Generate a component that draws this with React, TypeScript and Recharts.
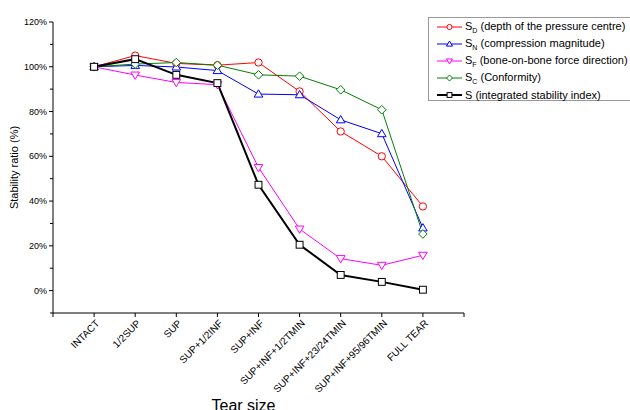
import React from 'react';
import { LineChart, Line, XAxis, YAxis } from 'recharts';

const categories = ['INTACT', '1/2SUP', 'SUP', 'SUP+1/2INF', 'SUP+INF', 'SUP+INF+1/2TMIN', 'SUP+INF+23/24TMIN', 'SUP+INF+95/96TMIN', 'FULL TEAR'];
const sD = [1.0, 1.05, 1.015, 1.007, 1.019, 0.89, 0.711, 0.60, 0.376];
const sN = [1.0, 1.006, 0.999, 0.983, 0.878, 0.875, 0.763, 0.701, 0.28];
const sF = [1.0, 0.963, 0.93, 0.92, 0.55, 0.275, 0.143, 0.113, 0.158];
const sC = [1.0, 1.012, 1.019, 1.007, 0.964, 0.958, 0.897, 0.808, 0.253];
const sI = [1.0, 1.034, 0.964, 0.927, 0.473, 0.205, 0.07, 0.039, 0.004];
const yTicks = [-0.1, 0, 0.1, 0.2, 0.3, 0.4, 0.5, 0.6, 0.7, 0.8, 0.9, 1.0, 1.1, 1.2];
const xTicks = [0, 1, 2, 3, 4, 5, 6, 7, 8, 9, 10];

const data = categories.map((c, i) => ({ x: i + 1, name: c, sD: sD[i], sN: sN[i], sF: sF[i], sC: sC[i], sI: sI[i] }));

const FONT = 'Liberation Sans, Arial, sans-serif';

type Shape = 'circle' | 'up' | 'down' | 'diamond' | 'square';

const marker = (shape: Shape, color: string, cx: number, cy: number, s: number, key?: any) => {
  const common = { fill: '#fff', stroke: color, strokeWidth: 1 };
  if (shape === 'circle') return <circle key={key} cx={cx} cy={cy} r={s * 0.85} {...common} />;
  if (shape === 'square') return <rect key={key} x={cx - s * 0.8} y={cy - s * 0.8} width={s * 1.6} height={s * 1.6} {...common} />;
  if (shape === 'up') return <polygon key={key} points={`${cx},${cy - s} ${cx + s},${cy + s * 0.7} ${cx - s},${cy + s * 0.7}`} {...common} />;
  if (shape === 'down') return <polygon key={key} points={`${cx},${cy + s} ${cx + s},${cy - s * 0.7} ${cx - s},${cy - s * 0.7}`} {...common} />;
  return <polygon key={key} points={`${cx},${cy - s} ${cx + s},${cy} ${cx},${cy + s} ${cx - s},${cy}`} {...common} />;
};

const makeDot = (shape: Shape, color: string) => (props: any) => {
  const { cx, cy, index } = props;
  if (cx == null || cy == null) return <g key={index} />;
  return marker(shape, color, cx, cy, 4.3, index);
};

const series = [
  { key: 'sD', color: '#FF0000', shape: 'circle' as Shape, width: 1, main: 'S', sub: 'D', rest: ' (depth of the pressure centre)' },
  { key: 'sN', color: '#0000FF', shape: 'up' as Shape, width: 1, main: 'S', sub: 'N', rest: ' (compression magnitude)' },
  { key: 'sF', color: '#FF00FF', shape: 'down' as Shape, width: 1, main: 'S', sub: 'F', rest: ' (bone-on-bone force direction)' },
  { key: 'sC', color: '#008000', shape: 'diamond' as Shape, width: 1, main: 'S', sub: 'C', rest: ' (Conformity)' },
  { key: 'sI', color: '#000000', shape: 'square' as Shape, width: 2, main: 'S', sub: '', rest: ' (integrated stability index)' },
];

const XTick = (props: any) => {
  const { x, y, payload } = props;
  const label = payload.value >= 1 && payload.value <= 9 ? categories[payload.value - 1] : '';
  const tx = x + 6;
  const ty = y + 5;
  return (
    <text x={tx} y={ty} transform={`rotate(-45, ${tx}, ${ty})`} textAnchor="end" fontSize={10} fontFamily={FONT} fill="#000">
      {label}
    </text>
  );
};

const YTick = (props: any) => {
  const { x, y, payload } = props;
  const v = Math.round(payload.value * 100);
  const major = v >= 0 && v % 20 === 0;
  const axisX = x + 6;
  return (
    <g>
      <line x1={axisX - (major ? 4 : 3)} y1={y} x2={axisX} y2={y} stroke="#000" strokeWidth={1} />
      {major && (
        <text x={axisX - 6} y={y} dy="0.35em" textAnchor="end" fontSize={9} fontFamily={FONT} fill="#000">
          {`${v}%`}
        </text>
      )}
    </g>
  );
};

const LegendBox = () => (
  <div style={{ position: 'absolute', left: 428, top: 17, width: 215, height: 84, border: '1px solid #999', background: '#fff', boxSizing: 'border-box', paddingTop: 1, fontFamily: FONT, fontSize: 11, color: '#000' }}>
    {series.map((s) => (
      <div key={s.key} style={{ height: 16.8, display: 'flex', alignItems: 'center', whiteSpace: 'nowrap' }}>
        <svg width={28} height={12} style={{ marginLeft: 8, flexShrink: 0 }}>
          <line x1={0} y1={6} x2={25} y2={6} stroke={s.color} strokeWidth={s.width} />
          {marker(s.shape, s.color, 12.5, 6, 3)}
        </svg>
        <span>
          {s.main}
          {s.sub && <sub style={{ fontSize: 7 }}>{s.sub}</sub>}
          {s.rest}
        </span>
      </div>
    ))}
  </div>
);

export default function App() {
  return (
    <div style={{ position: 'absolute', left: 0, top: 0, width: 630, height: 410, background: '#fff', overflow: 'hidden' }}>
      <LineChart width={630} height={410} data={data} margin={{ top: 22, right: 166, bottom: 0, left: 0 }}>
        <XAxis
          dataKey="x"
          type="number"
          domain={[0, 10]}
          ticks={xTicks}
          interval={0}
          height={97}
          tickSize={4}
          tick={<XTick />}
          axisLine={{ stroke: '#000', strokeWidth: 1 }}
          tickLine={{ stroke: '#000' }}
          label={{ value: 'Tear size', position: 'insideBottom', offset: -1, dx: -15, fontSize: 16, fontFamily: FONT, fill: '#000' }}
        />
        <YAxis
          type="number"
          domain={[-0.1, 1.2]}
          ticks={yTicks}
          interval={0}
          width={53}
          tickSize={4}
          tickLine={false}
          tick={<YTick />}
          axisLine={{ stroke: '#000', strokeWidth: 1 }}
          label={{ value: 'Stability ratio (%)', angle: -90, position: 'insideLeft', offset: 14, fontSize: 11, fontFamily: FONT, fill: '#000', style: { textAnchor: 'middle' } }}
        />
        {series.map((s) => (
          <Line
            key={s.key}
            dataKey={s.key}
            stroke={s.color}
            strokeWidth={s.width}
            dot={makeDot(s.shape, s.color)}
            activeDot={false}
            isAnimationActive={false}
            type="linear"
          />
        ))}
      </LineChart>
      <LegendBox />
    </div>
  );
}
